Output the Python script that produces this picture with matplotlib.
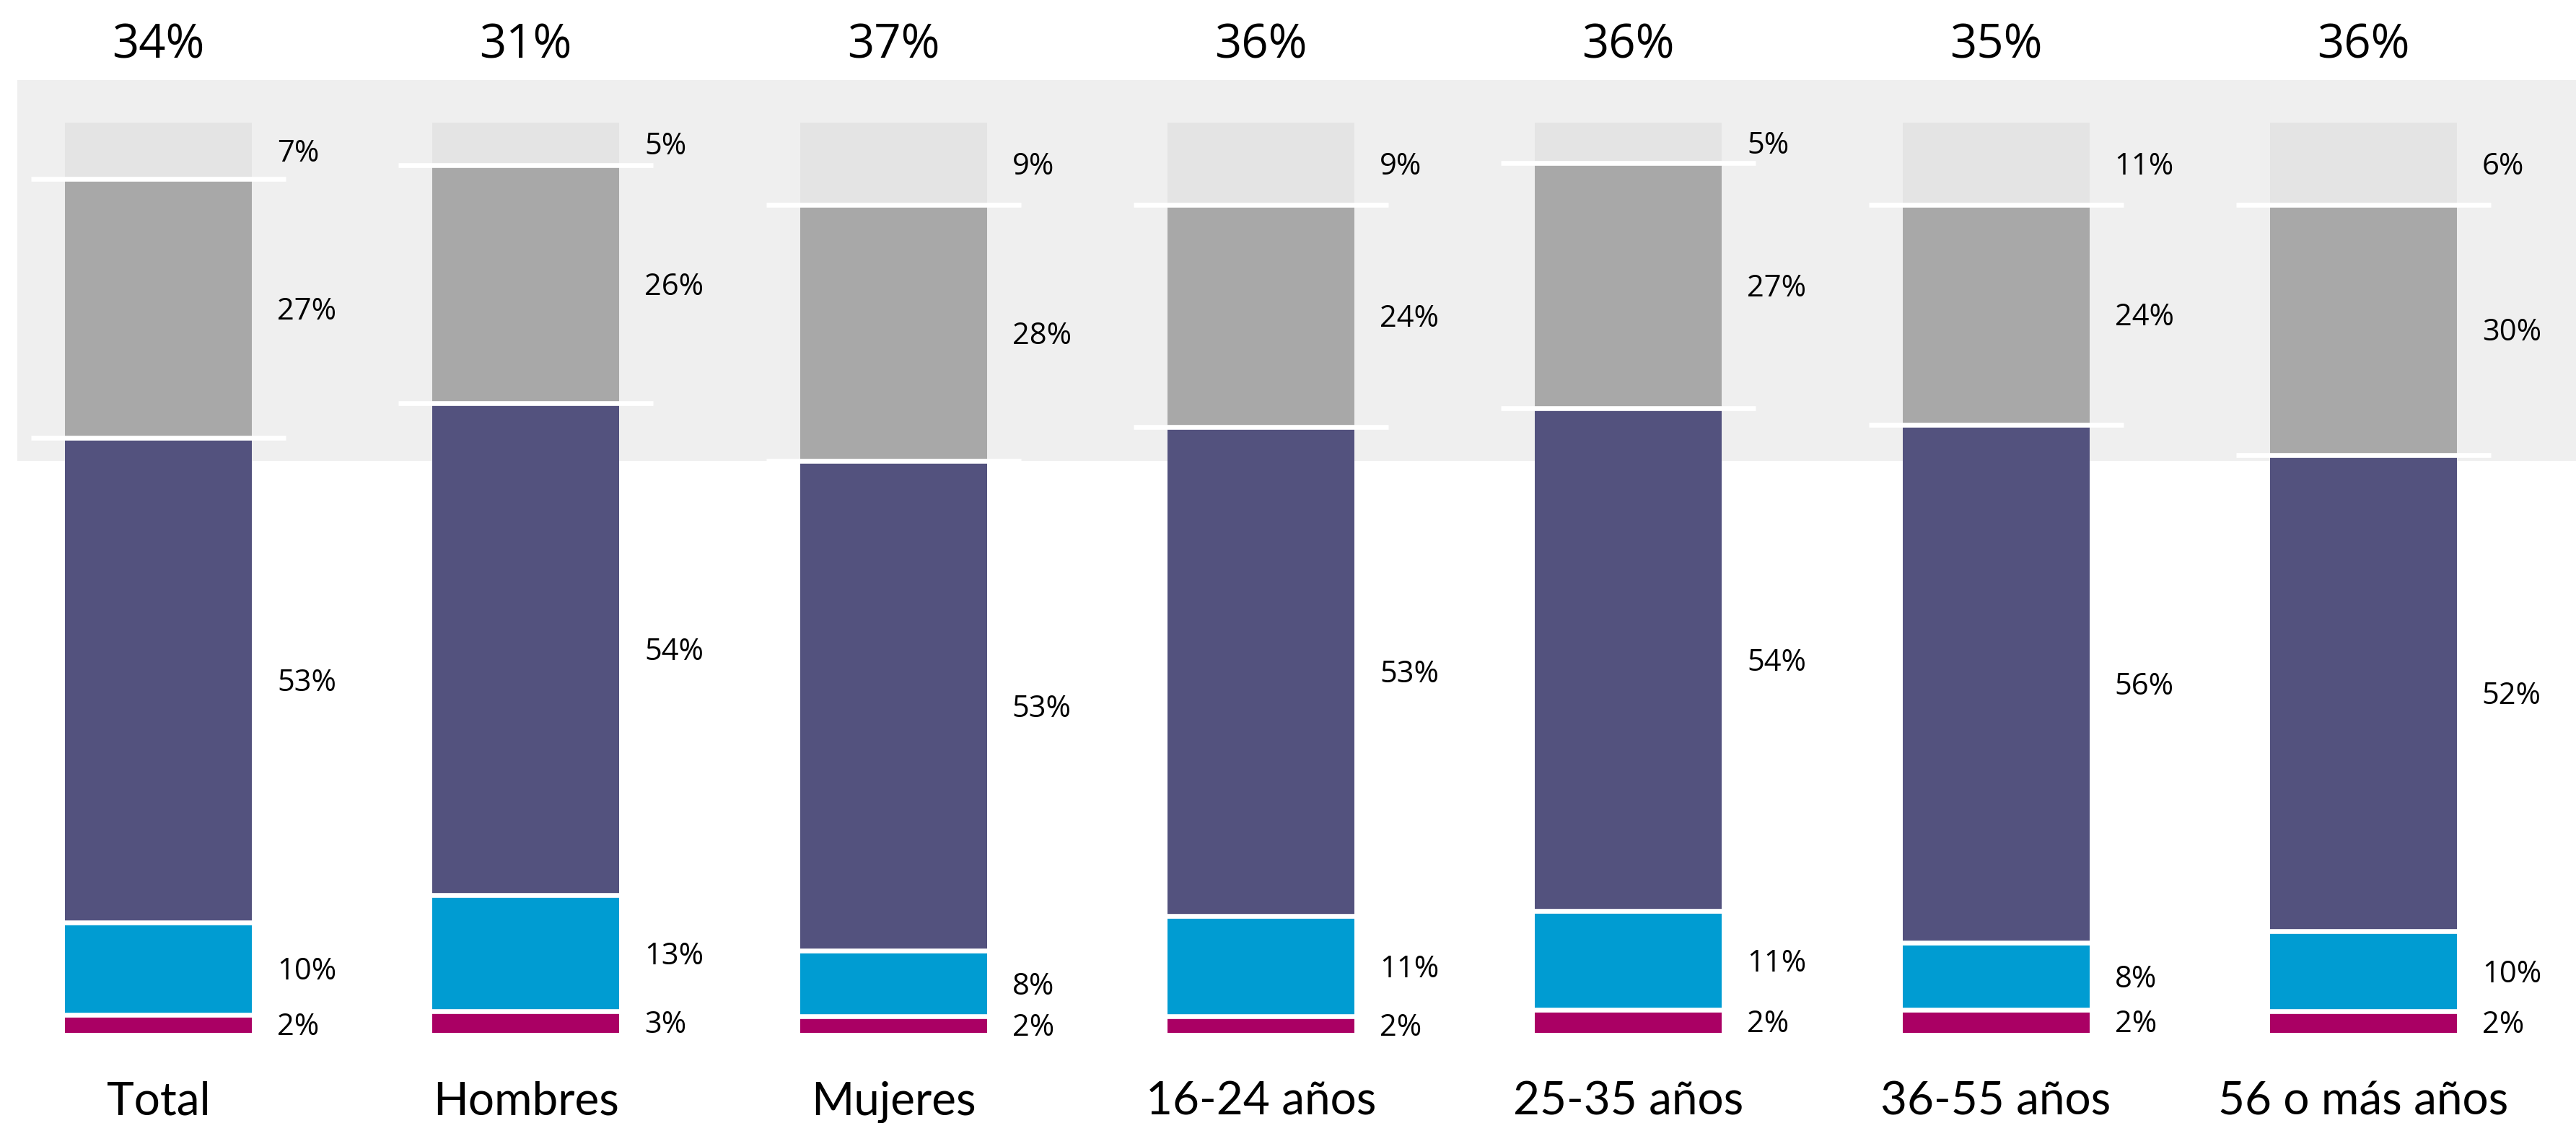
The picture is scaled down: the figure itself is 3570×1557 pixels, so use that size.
import numpy as np
import matplotlib
matplotlib.use("Agg")
import matplotlib.pyplot as plt
from matplotlib.patches import Rectangle

categories = ["Total", "Hombres", "Mujeres", "16-24 años", "25-35 años", "36-55 años", "56 o más años"]

# printed labels (rounded %)
lab_a = [2, 3, 2, 2, 2, 2, 2]        # magenta (bottom)
lab_b = [10, 13, 8, 11, 11, 8, 10]   # cyan
lab_c = [53, 54, 53, 53, 54, 56, 52] # dark purple
lab_d = [27, 26, 28, 24, 27, 24, 30] # gray
lab_e = [7, 5, 9, 9, 5, 11, 6]       # light gray (top)

# drawn segment heights (%)
h_a = [2.0, 2.35, 1.8, 1.8, 2.5, 2.5, 2.35]
h_b = [10.1, 12.8, 7.25, 11.0, 10.9, 7.4, 8.85]
h_c = [53.25, 54.0, 53.75, 53.8, 55.2, 56.9, 52.3]
h_d = [28.5, 26.2, 28.2, 24.4, 27.0, 24.2, 27.5]
h_e = [6.15, 4.65, 9.0, 9.0, 4.4, 9.0, 9.0]

top_labels = ["34%", "31%", "37%", "36%", "36%", "35%", "36%"]

colors = ["#AA0064", "#009CD2", "#53527E", "#A8A8A8", "#E4E4E4"]

W, H, DPI = 3570, 1557, 100
fig = plt.figure(figsize=(W / DPI, H / DPI), dpi=DPI)
ax = fig.add_axes([0, 0, 1, 1])
ax.set_axis_off()

spacing = 509.3
x0pix = 219.5
ybot = 125.0
unit = 12.62
ax.set_xlim(-x0pix / spacing, (W - x0pix) / spacing)
ax.set_ylim(-ybot / unit, (H - ybot) / unit)

bar_w = 259 / spacing
ext = 47 / spacing
lab_off = 35 / spacing

band_left = (24 - x0pix) / spacing
band_bottom = 62.8
band_top = 104.7
ax.add_patch(Rectangle((band_left, band_bottom), 10, band_top - band_bottom,
                       facecolor="#EFEFEF", edgecolor="none", zorder=0))

heights = np.array([h_a, h_b, h_c, h_d, h_e], dtype=float)
shares = heights / heights.sum(axis=0) * 100
labels = np.array([lab_a, lab_b, lab_c, lab_d, lab_e])
x = np.arange(len(categories))

bottom = np.zeros(len(categories))
for k in range(heights.shape[0]):
    ax.bar(x, shares[k], bottom=bottom, width=bar_w, color=colors[k],
           edgecolor="none", zorder=2)
    for i in range(len(categories)):
        yc = bottom[i] + shares[k][i] / 2
        ax.text(x[i] + bar_w / 2 + lab_off, yc - 1.2, f"{labels[k][i]}%",
                ha="left", va="baseline", fontsize=30, family="Open Sans",
                color="black", zorder=4)
    bottom = bottom + shares[k]
    if k < heights.shape[0] - 1:
        ax.hlines(bottom, x - bar_w / 2 - ext, x + bar_w / 2 + ext,
                  colors="white", linewidth=4.8, zorder=3)

for i in range(len(categories)):
    ax.text(x[i], 107.1, top_labels[i], ha="center", va="baseline",
            fontsize=47, family="Open Sans", color="black")
    ax.text(x[i], -9.0, categories[i], ha="center", va="baseline",
            fontsize=46, family="Lato", color="black")

fig.savefig("out.png", dpi=DPI, facecolor="white")
